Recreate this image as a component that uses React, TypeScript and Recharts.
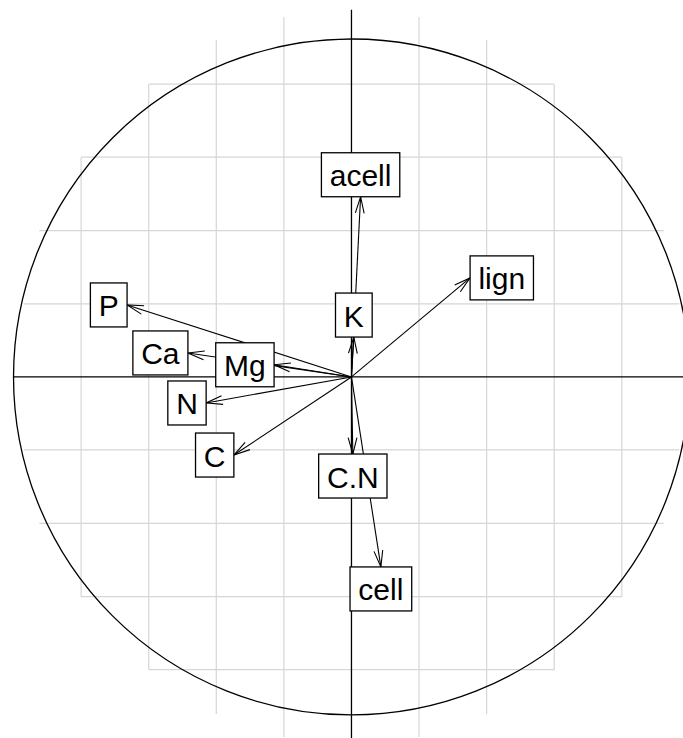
import { ScatterChart, Scatter, XAxis, YAxis, ReferenceLine, ReferenceDot } from "recharts";

// variable coordinates on the correlation circle (axis 1 / axis 2)
const varNames = ["acell", "K", "lign", "P", "Ca", "Mg", "N", "C", "C.N", "cell"];
const axis1 = [0.027, 0.007, 0.351, -0.664, -0.484, -0.229, -0.43, -0.348, 0.004, 0.087];
const axis2 = [0.533, 0.118, 0.293, 0.213, 0.071, 0.036, -0.077, -0.231, -0.228, -0.562];

// light grid: vertical lines (x, half length) and horizontal lines (y, half length)
const gridX = [-0.8, -0.6, -0.4, -0.2, 0.2, 0.4, 0.6, 0.8];
const gridXHalf = [0.65, 0.866, 0.997, 1.065, 1.065, 0.997, 0.866, 0.65];
const gridY = [0.866, 0.65, 0.433, 0.216, -0.216, -0.433, -0.65, -0.866];
const gridYHalf = [0.6, 0.8, 0.924, 0.97, 0.97, 0.924, 0.8, 0.6];

const W = 683;
const H = 738;
const X_DOMAIN: [number, number] = [-1.04, 0.981];
const Y_DOMAIN: [number, number] = [-1.068, 1.115];
const PX_PER_UNIT = W / (X_DOMAIN[1] - X_DOMAIN[0]);

const FONT = '"Liberation Sans", Arial, sans-serif';
const FONT_SIZE = 30;
const HALF_BOX = 22;
const HEAD = 17;

let ctx: CanvasRenderingContext2D | null = null;
function textWidth(s: string) {
    if (!ctx) {
        ctx = document.createElement("canvas").getContext("2d");
        if (ctx) ctx.font = `${FONT_SIZE}px ${FONT}`;
    }
    return ctx ? ctx.measureText(s).width : s.length * FONT_SIZE * 0.55;
}

const points = varNames.map((name, i) => ({ name, x: axis1[i], y: axis2[i] }));

const ArrowShape = (props: any) => {
    const { x1, y1, x2, y2 } = props;
    const dx = x2 - x1;
    const dy = y2 - y1;
    const d = Math.hypot(dx, dy);
    if (d < 1e-6) return <g />;
    const vx = -dx / d;
    const vy = -dy / d;
    const a = (15 * Math.PI) / 180;
    const b1x = x2 + HEAD * (vx * Math.cos(a) - vy * Math.sin(a));
    const b1y = y2 + HEAD * (vx * Math.sin(a) + vy * Math.cos(a));
    const b2x = x2 + HEAD * (vx * Math.cos(-a) - vy * Math.sin(-a));
    const b2y = y2 + HEAD * (vx * Math.sin(-a) + vy * Math.cos(-a));
    return (
        <g stroke="#000" strokeWidth={1.1} fill="none">
            <line x1={x1} y1={y1} x2={x2} y2={y2} />
            <polyline points={`${b1x},${b1y} ${x2},${y2} ${b2x},${b2y}`} />
        </g>
    );
};

// label box placed outside the arrow tip, side chosen by quadrant
const LabelBox = (props: any) => {
    const { cx, cy, payload } = props;
    const w = textWidth(` ${payload.name} `);
    const xr = payload.x;
    const yr = payload.y;
    let bx = cx;
    let by = cy;
    if (xr > yr && xr > -yr) bx = cx + w / 2;
    else if (xr > yr && xr <= -yr) by = cy + HALF_BOX;
    else if (xr <= yr && xr <= -yr) bx = cx - w / 2;
    else by = cy - HALF_BOX;
    return (
        <g>
            <rect x={bx - w / 2} y={by - HALF_BOX} width={w} height={HALF_BOX * 2} fill="#fff" stroke="#000" strokeWidth={1.3} />
            <text x={bx} y={by + 11.5} textAnchor="middle" fontFamily={FONT} fontSize={FONT_SIZE} fill="#000">
                {payload.name}
            </text>
        </g>
    );
};

export default function App() {
    return (
        <div style={{ position: "absolute", left: 0, top: 0, background: "#fff" }}>
            <ScatterChart width={W} height={H} margin={{ top: 0, right: 0, bottom: 0, left: 0 }}>
                <XAxis type="number" dataKey="x" domain={X_DOMAIN} hide allowDataOverflow />
                <YAxis type="number" dataKey="y" domain={Y_DOMAIN} hide allowDataOverflow />

                {gridX.map((gx, i) => (
                    <ReferenceLine
                        key={"gx" + i}
                        segment={[{ x: gx, y: -gridXHalf[i] }, { x: gx, y: gridXHalf[i] }]}
                        stroke="#d6d6d6"
                        strokeWidth={1.2}
                        ifOverflow="visible"
                    />
                ))}
                {gridY.map((gy, i) => (
                    <ReferenceLine
                        key={"gy" + i}
                        segment={[{ x: -gridYHalf[i], y: gy }, { x: gridYHalf[i], y: gy }]}
                        stroke="#d6d6d6"
                        strokeWidth={1.2}
                        ifOverflow="visible"
                    />
                ))}

                {/* axes */}
                <ReferenceLine segment={[{ x: -1, y: 0 }, { x: 1, y: 0 }]} stroke="#000" strokeWidth={1.3} ifOverflow="visible" />
                <ReferenceLine segment={[{ x: 0, y: -1.086 }, { x: 0, y: 1.086 }]} stroke="#000" strokeWidth={1.3} ifOverflow="visible" />

                {/* unit circle */}
                <ReferenceDot x={0} y={0} r={PX_PER_UNIT} fill="none" stroke="#000" strokeWidth={1.3} ifOverflow="visible" />

                {points.map((p) => (
                    <ReferenceLine
                        key={"a" + p.name}
                        segment={[{ x: 0, y: 0 }, { x: p.x, y: p.y }]}
                        ifOverflow="visible"
                        shape={ArrowShape}
                    />
                ))}

                <Scatter data={points} isAnimationActive={false} shape={LabelBox} />
            </ScatterChart>
        </div>
    );
}
